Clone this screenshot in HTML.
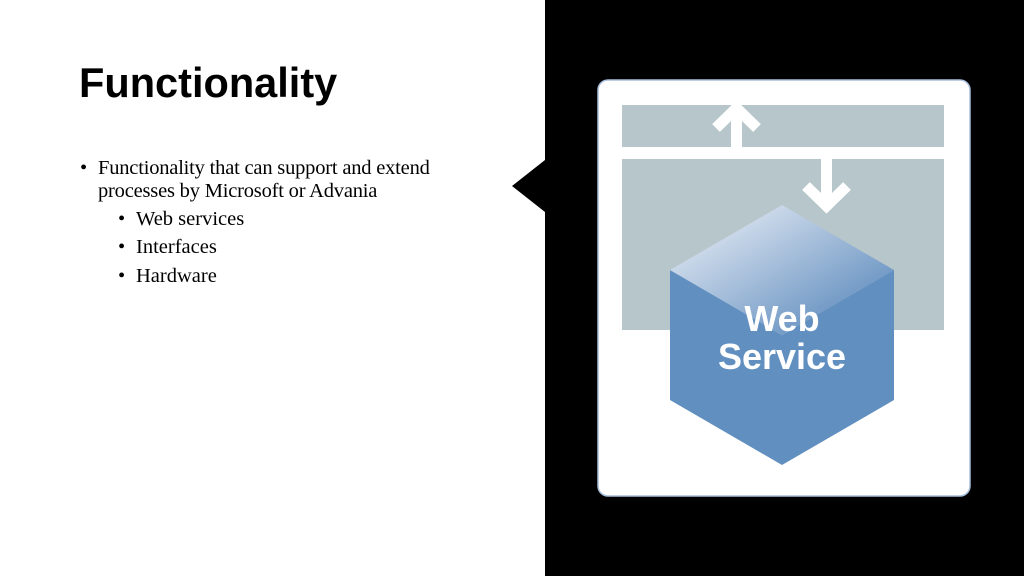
<!DOCTYPE html>
<html><head><style>
body{margin:0;width:1024px;height:576px;overflow:hidden;background:#fff;position:relative;font-family:"Liberation Serif",serif}
h1{position:absolute;left:79px;top:59px;margin:0;font:bold 41.5px "Liberation Sans",sans-serif;color:#000}
.t{position:absolute;font-size:20.5px;color:#000;line-height:23px;white-space:nowrap}
</style></head><body>
<h1>Functionality</h1>
<div class="t" style="left:80px;top:157px">•</div>
<div class="t" style="left:98px;top:157px;letter-spacing:-0.2px">Functionality that can support and extend<br>processes by Microsoft or Advania</div>
<div class="t" style="left:118px;top:208px">•</div><div class="t" style="left:136px;top:208px">Web services</div>
<div class="t" style="left:118px;top:236px">•</div><div class="t" style="left:136px;top:236px">Interfaces</div>
<div class="t" style="left:118px;top:265px">•</div><div class="t" style="left:136px;top:265px">Hardware</div>
<svg width="1024" height="576" style="position:absolute;left:0;top:0">
<defs><linearGradient id="g" x1="0" y1="0" x2="1" y2="1">
<stop offset="0.1" stop-color="#e2e9f3"/><stop offset="0.85" stop-color="#6490c0"/></linearGradient></defs>
<rect x="545" y="0" width="479" height="576" fill="#000"/>
<polygon points="545,160 512,186 545,212" fill="#000"/>
<rect x="598" y="80" width="372" height="416" rx="10" fill="#fff" stroke="#a9bfdc" stroke-width="1.5"/>
<rect x="622" y="105" width="322" height="42" fill="#b7c6ca"/>
<rect x="622" y="159" width="322" height="171" fill="#b7c6ca"/>
<path d="M736.5,147 V110 M716,128 L736.5,108 L757,128" stroke="#fff" stroke-width="11" fill="none"/>
<path d="M826.5,159 V205 M806,186 L826.5,206 L847,186" stroke="#fff" stroke-width="11" fill="none"/>
<polygon points="670,270 782,335 894,270 894,400 782,465 670,400" fill="#6190c0"/>
<polygon points="670,270 782,205 894,270 782,335" fill="url(#g)"/>
<text x="782" y="331" text-anchor="middle" font-family="Liberation Sans,sans-serif" font-weight="bold" font-size="36" fill="#fff">Web</text>
<text x="782" y="369" text-anchor="middle" font-family="Liberation Sans,sans-serif" font-weight="bold" font-size="36" fill="#fff">Service</text>
</svg>
</body></html>
